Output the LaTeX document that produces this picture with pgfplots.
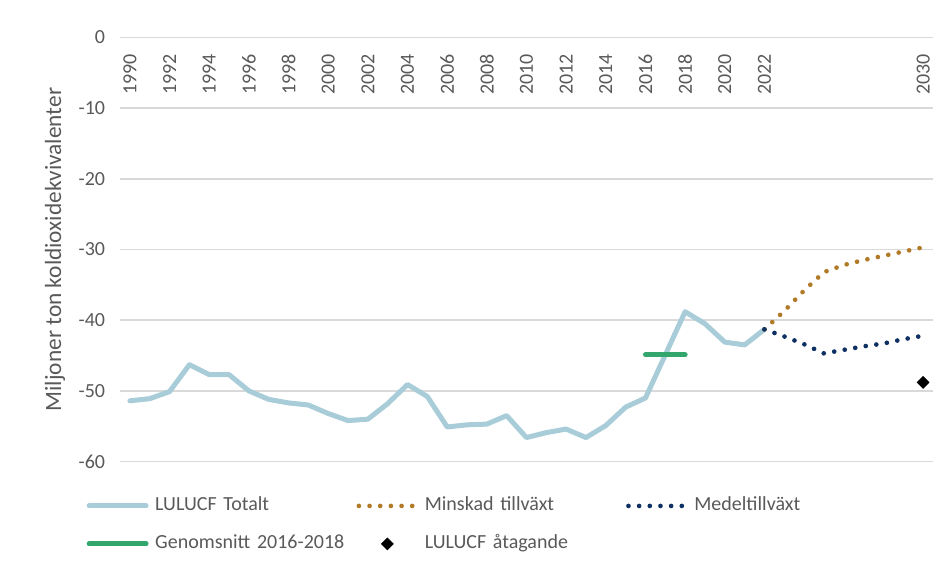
\documentclass[border=0pt]{standalone}
\usepackage{fontspec}
\setmainfont{Carlito}
\usepackage{pgfplots}
\pgfplotsset{compat=1.18}
\definecolor{lulucf}{RGB}{168,205,217}
\definecolor{snitt}{RGB}{50,166,108}
\definecolor{minskad}{RGB}{176,122,38}
\definecolor{medel}{RGB}{14,48,98}
\definecolor{gridgray}{RGB}{217,217,217}
\definecolor{textgray}{RGB}{89,89,89}
\pgfplotsset{
    longline legend/.style={legend image code/.code={\draw[mark repeat=2,mark phase=2,##1] plot coordinates {(0cm,0cm) (0.75cm,0cm) (1.5cm,0cm)};}},
    diamond legend/.style={legend image code/.code={\path[mark repeat=2,mark phase=2,##1] plot coordinates {(0cm,0cm) (0.75cm,0cm) (1.5cm,0cm)};}},
}

\begin{document}
\fontsize{15}{18}\selectfont
\begin{tikzpicture}
% page frame: 947x569 px at 0.75pt per px, plot box corner at (0,0)
\useasboundingbox (-90pt,-80.5pt) rectangle (620.25pt,346.2pt);
\begin{axis}[
    at={(0,0)}, anchor=south west,
    scale only axis,
    width=609.75pt, height=318.2pt,
    xmin=1989.5, xmax=2030.5,
    ymin=-60, ymax=0,
    xtick={1990,1992,...,2022,2030},
    ytick={-60,-50,...,0},
    /pgf/number format/1000 sep={},
    /pgf/number format/assume math mode=true,
    xticklabel pos=upper,
    xticklabel style={yshift=-7.5pt, rotate=90, anchor=east, text=textgray},
    yticklabel style={xshift=-6pt, text=textgray},
    ymajorgrids,
    grid style={draw=gridgray, line width=1.2pt},
    axis line style={draw=none},
    tick style={draw=none},
    ylabel={Miljoner ton koldioxidekvivalenter},
    every axis y label/.style={at={(rel axis cs:0,0.5)}, xshift=-48.75pt, rotate=90, anchor=center,
        text=textgray, font=\fontsize{17.5}{20}\selectfont},
    longline legend,
    legend style={at={(rel axis cs:0,0)}, anchor=north west, xshift=-25pt, yshift=-21pt,
        draw=none, fill=none, inner sep=0pt, outer sep=0pt, legend columns=3, row sep=4pt,
        nodes={inner sep=5pt, text width=146pt, align=left, text height=11pt, text depth=3.5pt, text=textgray}},
    legend cell align=left,
]
\addplot[lulucf, line width=3.75pt, line join=round, line cap=round] coordinates {
(1990,-51.4) (1991,-51.1) (1992,-50.1) (1993,-46.3) (1994,-47.7) (1995,-47.7)
(1996,-50.0) (1997,-51.2) (1998,-51.7) (1999,-52.0) (2000,-53.2) (2001,-54.2)
(2002,-54.0) (2003,-51.8) (2004,-49.1) (2005,-50.8) (2006,-55.1) (2007,-54.8)
(2008,-54.7) (2009,-53.5) (2010,-56.6) (2011,-55.9) (2012,-55.4) (2013,-56.6)
(2014,-54.9) (2015,-52.3) (2016,-51.0) (2017,-44.9) (2018,-38.8) (2019,-40.5)
(2020,-43.1) (2021,-43.5) (2022,-41.3)};
\addlegendentry{LULUCF Totalt}
\addplot[minskad, line width=3.5pt, dash pattern=on 0pt off 8pt, line cap=round] coordinates {
(2022,-41.3) (2023,-38.7) (2024,-35.8) (2025,-33.2) (2026,-32.2) (2027,-31.5)
(2028,-30.9) (2029,-30.3) (2030,-29.7)};
\addlegendentry{Minskad tillväxt}
\addplot[medel, line width=3.5pt, dash pattern=on 0pt off 8pt, line cap=round] coordinates {
(2022,-41.3) (2023,-42.3) (2024,-43.4) (2025,-44.7) (2026,-44.2) (2027,-43.7)
(2028,-43.3) (2029,-42.7) (2030,-42.2)};
\addlegendentry{Medeltillväxt}
\addplot[snitt, line width=3.75pt, line cap=round] coordinates {(2016,-44.9) (2018,-44.9)};
\addlegendentry{Genomsnitt 2016-2018}
\addplot[draw=none, mark=square*, mark size=3.2pt, mark options={rotate=45, draw=black, fill=black}, diamond legend]
    coordinates {(2030,-48.8)};
\addlegendentry{LULUCF åtagande}
\end{axis}
\end{tikzpicture}
\end{document}
